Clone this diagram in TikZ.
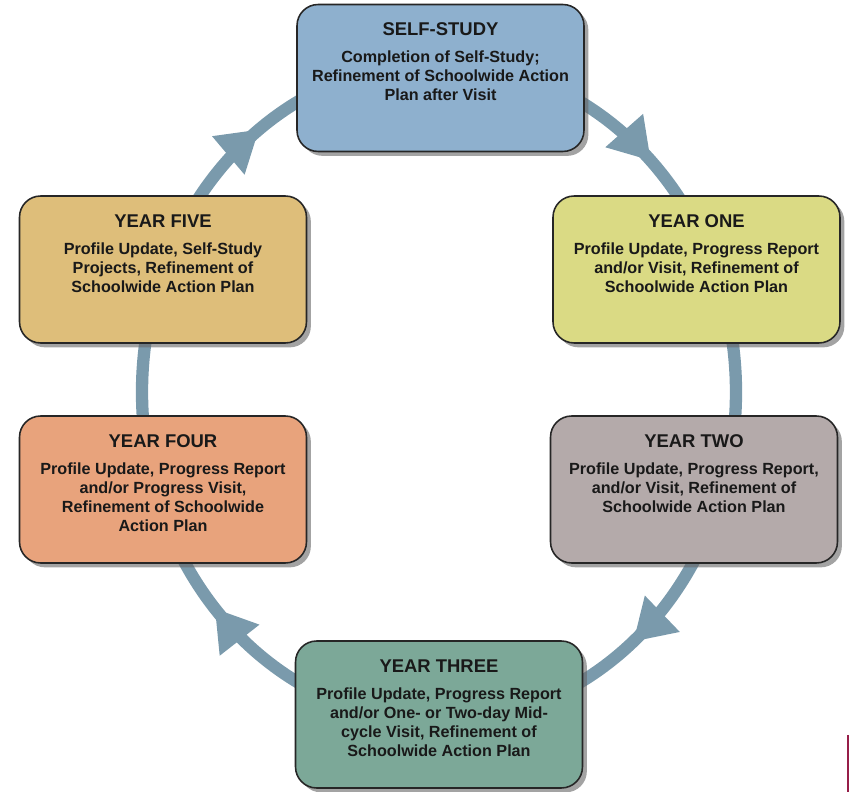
\documentclass[tikz,border=0pt]{standalone}
\usepackage{fontspec}
\setmainfont{Liberation Sans}
\usetikzlibrary{arrows.meta,decorations.markings,shadows}
\definecolor{ringblue}{RGB}{122,154,172}
\definecolor{selfblue}{RGB}{142,176,206}
\definecolor{oneyellow}{RGB}{218,218,132}
\definecolor{twogray}{RGB}{180,170,170}
\definecolor{threeteal}{RGB}{124,168,152}
\definecolor{fourorange}{RGB}{232,163,124}
\definecolor{fivetan}{RGB}{222,190,122}
\definecolor{edgemark}{RGB}{150,30,72}
\newcommand{\stagetext}[2]{\parbox[c][2.2cm][t]{5.6cm}{\centering
  \fontsize{10.5}{12}\selectfont #1\par\vspace{4.5pt}
  \fontsize{9.2}{10.8}\selectfont #2\par}}

\begin{document}
\begin{tikzpicture}[x=0.02cm, y=0.02cm,
    stage/.style={draw=black!85, line width=0.9pt, rounded corners=12pt,
      minimum width=5.74cm, minimum height=2.94cm, inner xsep=0pt, inner ysep=10pt,
      font=\bfseries, text=black!90,
      drop shadow={shadow xshift=2.5pt, shadow yshift=-2.5pt, fill=black!60, opacity=0.6}},
    ring/.style={draw=ringblue, line width=7pt},
    tipat/.style={postaction={decorate}, decoration={markings,
      mark=at position #1 with {\arrow[ringblue]{Triangle[width=27pt, length=23pt]}}}}]
    \useasboundingbox (0,0) rectangle (850,792);
    \path (439,400) coordinate (ctr);
    \path (ctr) ++(90:297 and 330) coordinate (ring-self);
    \path (ctr) ++(30:297 and 330) coordinate (ring-one);
    \path (ctr) ++(-30:297 and 330) coordinate (ring-two);
    \path (ctr) ++(-90:297 and 330) coordinate (ring-three);
    \path (ctr) ++(-150:297 and 330) coordinate (ring-four);
    \path (ctr) ++(150:297 and 330) coordinate (ring-five);
    \draw[ring, tipat=0.75] (ring-self) arc[start angle=90, end angle=30, x radius=297, y radius=330];
    \draw[ring] (ring-one) arc[start angle=30, end angle=-30, x radius=297, y radius=330];
    \draw[ring, tipat=0.33] (ring-two) arc[start angle=-30, end angle=-90, x radius=297, y radius=330];
    \draw[ring, tipat=0.81] (ring-three) arc[start angle=-90, end angle=-150, x radius=297, y radius=330];
    \draw[ring] (ring-four) arc[start angle=-150, end angle=-210, x radius=297, y radius=330];
    \draw[ring, tipat=0.39] (ring-five) arc[start angle=150, end angle=90, x radius=297, y radius=330];

    \node[stage, fill=selfblue] (self) at (440.5,714)
      {\stagetext{SELF-STUDY}{Completion of Self-Study;\\Refinement of Schoolwide Action\\Plan after Visit}};
    \node[stage, fill=oneyellow] (one) at (696.5,522.5)
      {\stagetext{YEAR ONE}{Profile Update, Progress Report\\and/or Visit, Refinement of\\Schoolwide Action Plan}};
    \node[stage, fill=twogray] (two) at (694,302.5)
      {\stagetext{YEAR TWO}{Profile Update, Progress Report,\\and/or Visit, Refinement of\\Schoolwide Action Plan}};
    \node[stage, fill=threeteal] (three) at (439,77.5)
      {\stagetext{YEAR THREE}{Profile Update, Progress Report\\and/or One- or Two-day Mid-\\cycle Visit, Refinement of\\Schoolwide Action Plan}};
    \node[stage, fill=fourorange] (four) at (163,302.5)
      {\stagetext{YEAR FOUR}{Profile Update, Progress Report\\and/or Progress Visit,\\Refinement of Schoolwide\\Action Plan}};
    \node[stage, fill=fivetan] (five) at (163,522.5)
      {\stagetext{YEAR FIVE}{Profile Update, Self-Study\\Projects, Refinement of\\Schoolwide Action Plan}};

    \draw[edgemark, line width=1.2pt] (848,57) -- (848,0);
\end{tikzpicture}
\end{document}
